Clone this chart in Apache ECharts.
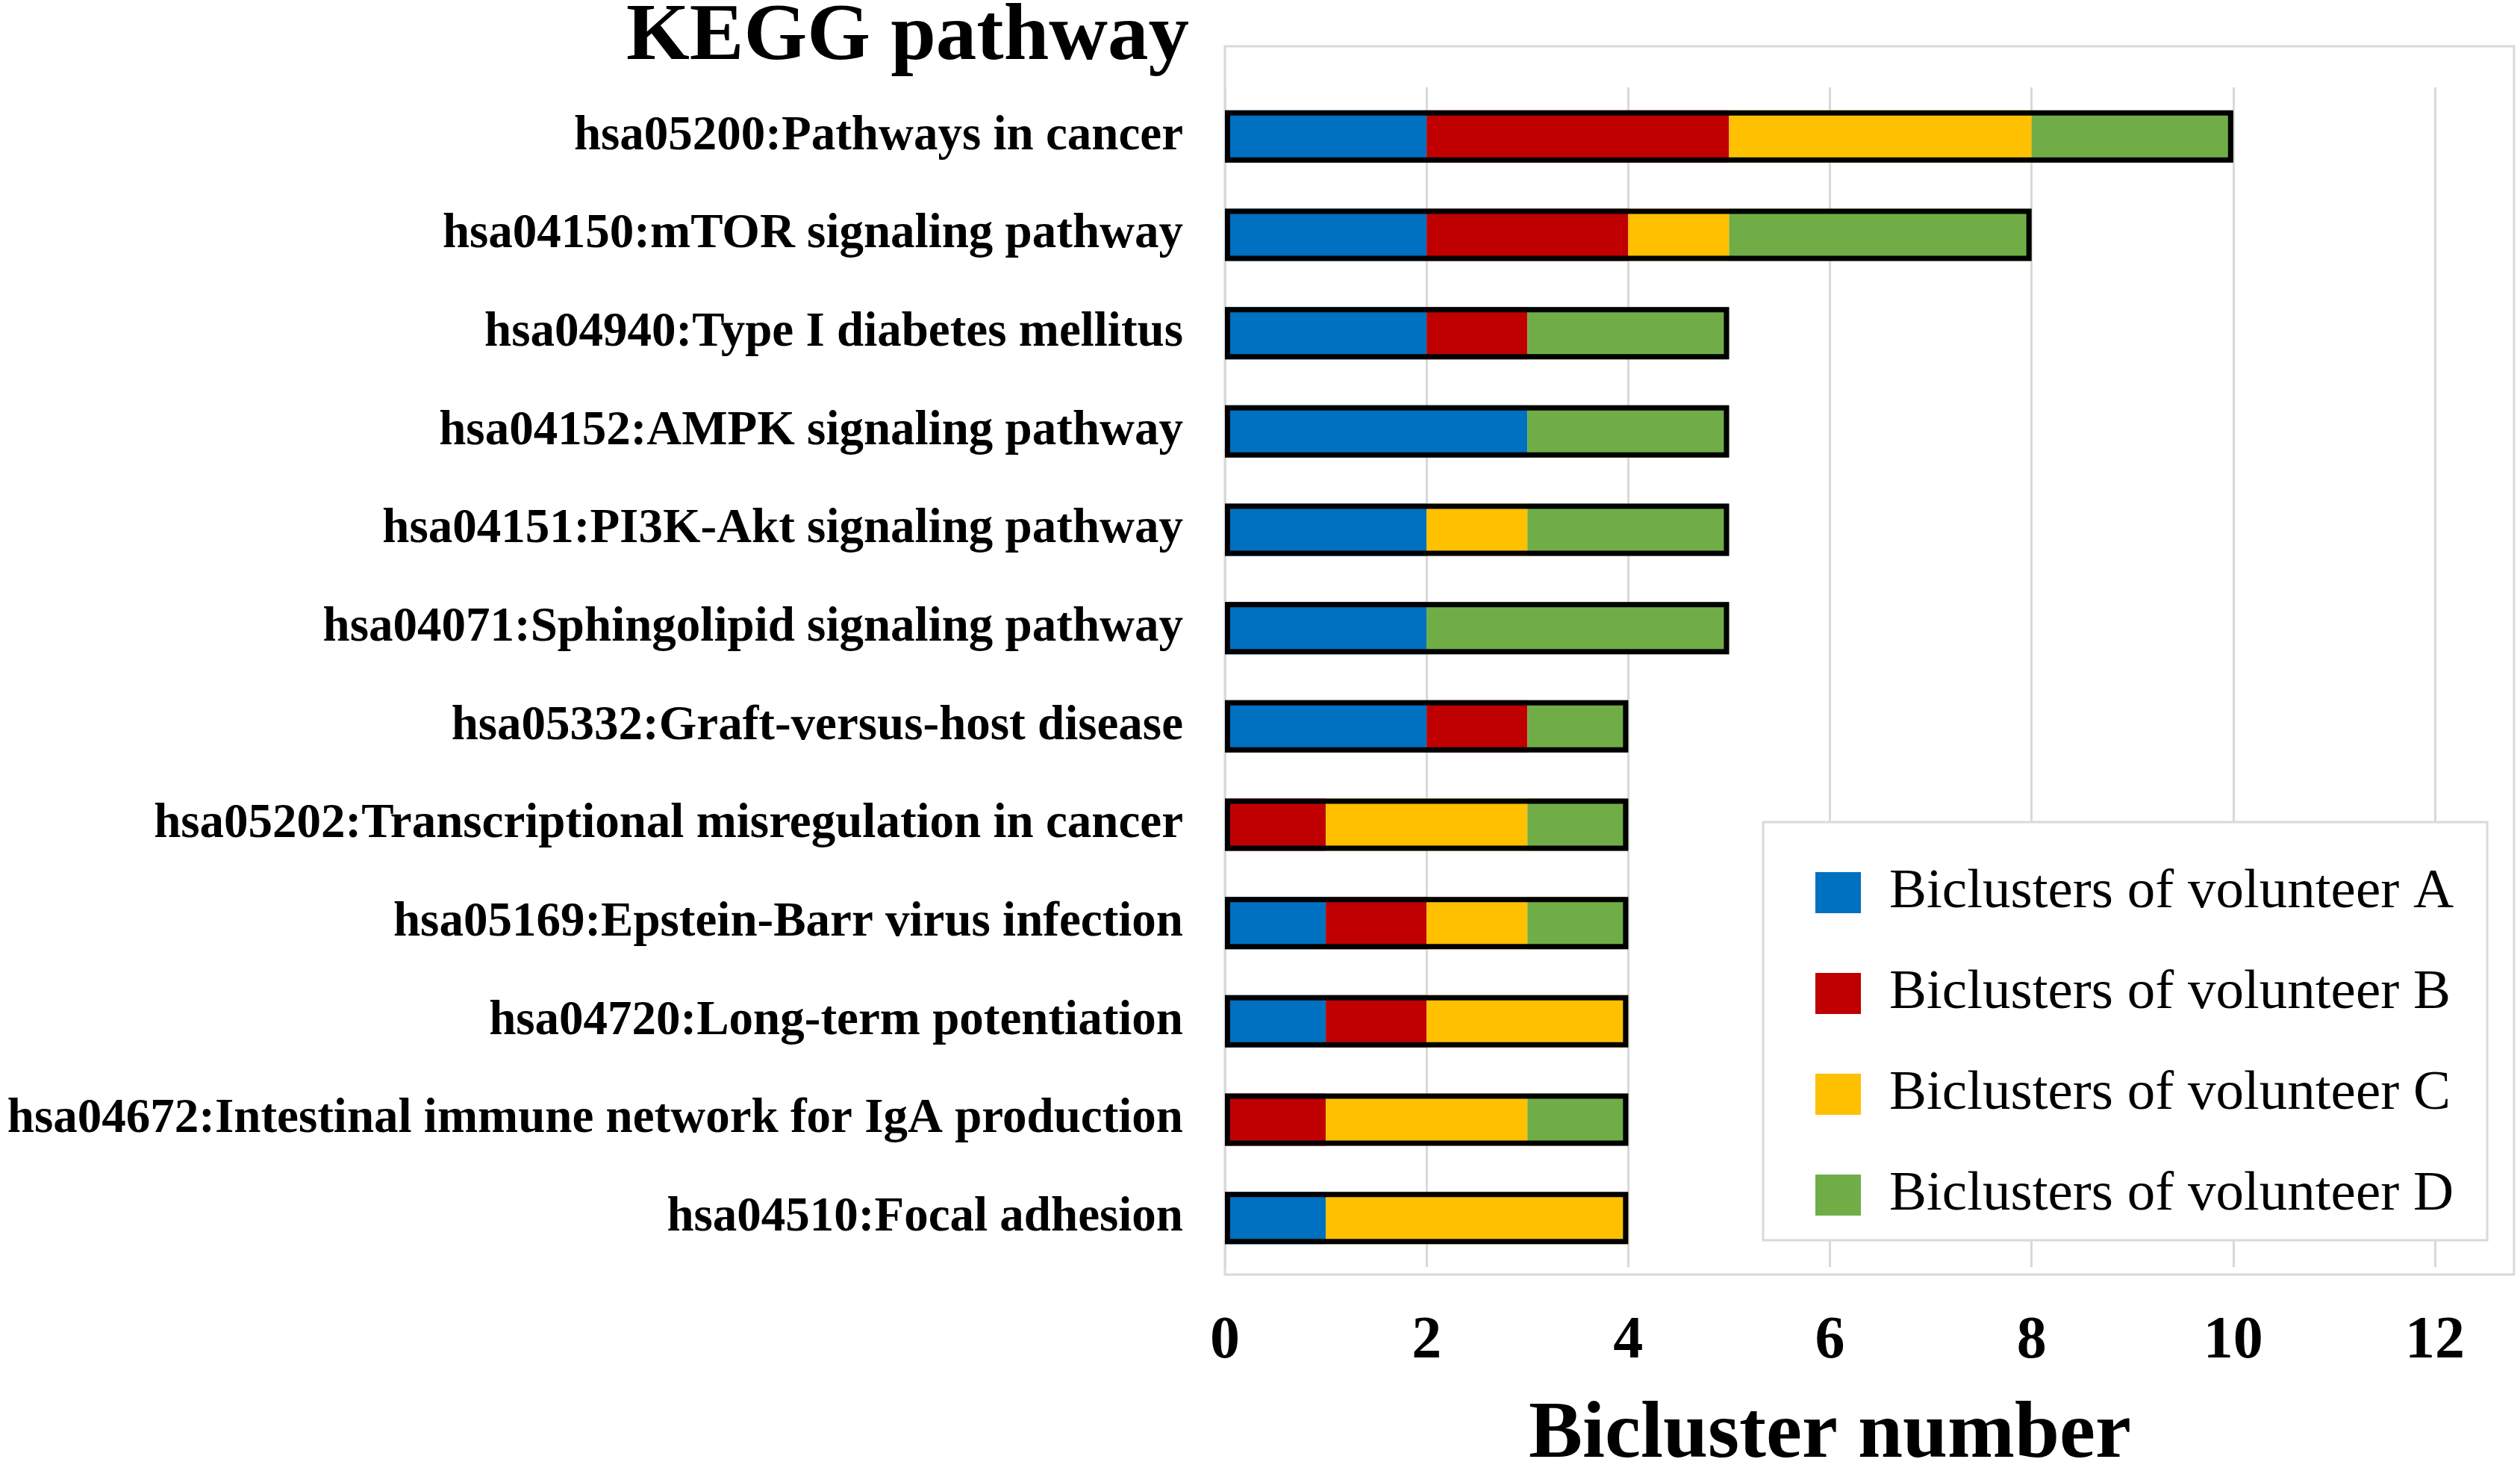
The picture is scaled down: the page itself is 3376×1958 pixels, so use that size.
<!DOCTYPE html>
<html>
<head>
<meta charset="utf-8">
<script src="https://cdn.jsdelivr.net/npm/echarts@6/dist/echarts.min.js"></script>
<style>
html,body{margin:0;padding:0;background:#fff;}
#chart{width:3376px;height:1958px;}
</style>
</head>
<body>
<div id="chart"></div>
<script>
var categories = [
  'hsa05200:Pathways in cancer',
  'hsa04150:mTOR signaling pathway',
  'hsa04940:Type I diabetes mellitus',
  'hsa04152:AMPK signaling pathway',
  'hsa04151:PI3K-Akt signaling pathway',
  'hsa04071:Sphingolipid signaling pathway',
  'hsa05332:Graft-versus-host disease',
  'hsa05202:Transcriptional misregulation in cancer',
  'hsa05169:Epstein-Barr virus infection',
  'hsa04720:Long-term potentiation',
  'hsa04672:Intestinal immune network for IgA production',
  'hsa04510:Focal adhesion'
];
var seriesNames = ['Biclusters of volunteer A','Biclusters of volunteer B','Biclusters of volunteer C','Biclusters of volunteer D'];
var volunteerA = [2, 2, 2, 3, 2, 2, 2, 0, 1, 1, 0, 1];
var volunteerB = [3, 2, 1, 0, 0, 0, 1, 1, 1, 1, 1, 0];
var volunteerC = [3, 1, 0, 0, 1, 0, 0, 2, 1, 2, 2, 3];
var volunteerD = [2, 3, 2, 2, 2, 3, 1, 1, 1, 0, 1, 0];
var xTicks = [0, 2, 4, 6, 8, 10, 12];

var colors = ['#0070C0', '#C00000', '#FFC000', '#70AD47'];
var values = [volunteerA, volunteerB, volunteerC, volunteerD];
var totals = categories.map(function (c, i) {
  return volunteerA[i] + volunteerB[i] + volunteerC[i] + volunteerD[i];
});
var FONT = "'Liberation Serif', 'Times New Roman', serif";

var series = seriesNames.map(function (n, k) {
  return {
    name: n,
    type: 'bar',
    stack: 'total',
    barWidth: 70,
    data: values[k],
    itemStyle: { color: colors[k] },
    z: 2
  };
});
series.push({
  name: 'outline',
  type: 'bar',
  barWidth: 70,
  barGap: '-100%',
  data: totals,
  itemStyle: { color: 'rgba(0,0,0,0)', borderColor: '#000', borderWidth: 7 },
  z: 3,
  silent: true
});

var chart = echarts.init(document.getElementById('chart'));
chart.setOption({
  animation: false,
  backgroundColor: '#fff',
  title: {
    text: 'KEGG pathway',
    right: 1783,
    top: -4,
    padding: 0,
    textStyle: { fontFamily: FONT, fontWeight: 'bold', fontSize: 109, lineHeight: 109, color: '#000' }
  },
  graphic: [{
    type: 'rect',
    z: -1,
    shape: { x: 1641, y: 62, width: 1727, height: 1645 },
    style: { fill: 'none', stroke: '#d9d9d9', lineWidth: 3 }
  }],
  grid: {
    left: 1641, right: 3376 - 3262, top: 117, height: 1580,
    containLabel: false,
    outerBoundsMode: 'none'
  },
  legend: {
    data: seriesNames,
    orient: 'vertical',
    left: 2362,
    top: 1101,
    padding: [57, 45, 23, 70],
    itemGap: 60,
    itemWidth: 61,
    itemHeight: 55,
    icon: 'rect',
    backgroundColor: '#fff',
    borderColor: '#d9d9d9',
    borderWidth: 3,
    borderRadius: 0,
    z: 10,
    textStyle: { fontFamily: FONT, fontSize: 75, lineHeight: 75, color: '#000', padding: [0, 0, 0, 33] }
  },
  xAxis: {
    type: 'value',
    min: xTicks[0],
    max: xTicks[xTicks.length - 1],
    interval: 2,
    axisLine: { show: false },
    axisTick: { show: false },
    splitLine: { show: true, lineStyle: { color: '#d9d9d9', width: 3 } },
    axisLabel: { fontFamily: FONT, fontWeight: 'bold', fontSize: 80, color: '#000', margin: 60 },
    name: 'Bicluster number',
    nameLocation: 'middle',
    nameGap: 172,
    nameTextStyle: { fontFamily: FONT, fontWeight: 'bold', fontSize: 108, color: '#000' }
  },
  yAxis: {
    type: 'category',
    data: categories,
    inverse: true,
    axisLine: { show: true, lineStyle: { color: '#d9d9d9', width: 3 } },
    axisTick: { show: false },
    splitLine: { show: false },
    axisLabel: { fontFamily: FONT, fontWeight: 'bold', fontSize: 65, color: '#000', margin: 56, padding: [6, 0, 0, 0] }
  },
  series: series
});
</script>
</body>
</html>
